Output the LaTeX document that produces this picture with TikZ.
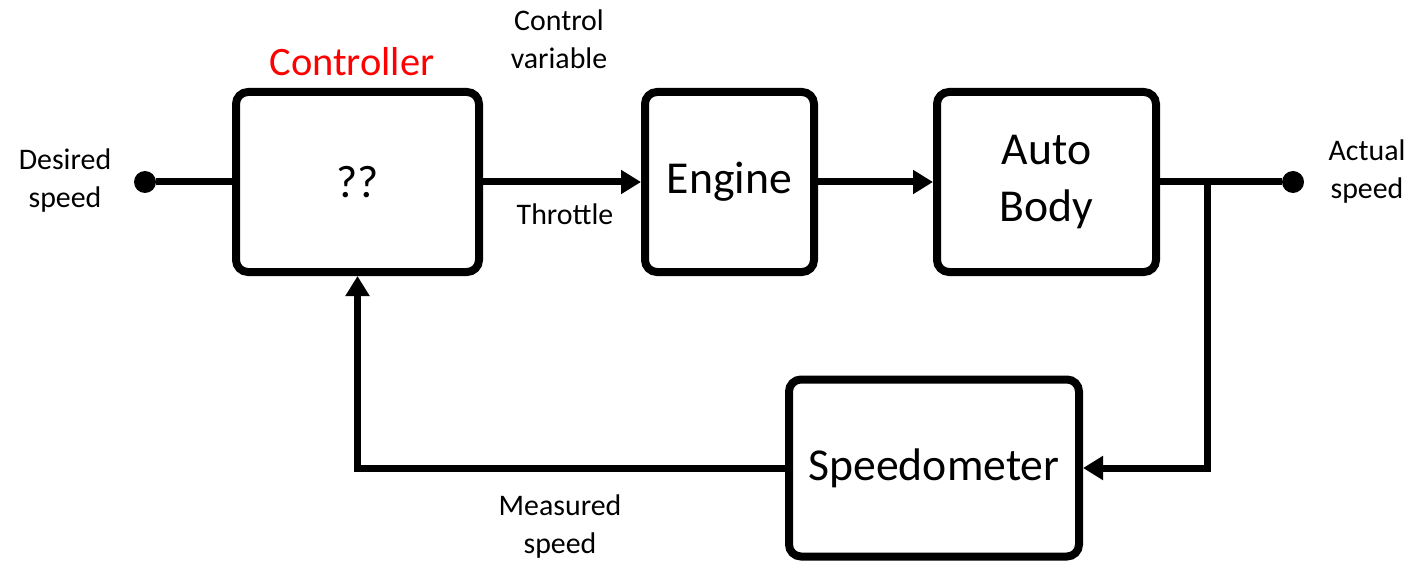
\documentclass[tikz,border=0pt]{standalone}
\usepackage{fontspec}
\setmainfont{Carlito}
\usepackage{tikz}
\usetikzlibrary{arrows.meta,positioning,calc}

\begin{document}
\begin{tikzpicture}[
    block/.style={rectangle, draw, line width=0.16cm, rounded corners=0.24cm, align=center, font=\fontsize{26}{32}\selectfont},
    port/.style={circle, fill, minimum size=0.44cm, inner sep=0pt},
    arrow/.style={-{Triangle[length=0.4cm,width=0.46cm]}, line width=0.14cm},
    wire/.style={line width=0.14cm},
    label/.style={align=center, font=\fontsize{17}{21.6}\selectfont}
]
\useasboundingbox (0,0) rectangle (28.24,-11.32);

% Blocks
\node[block, minimum width=4.86cm, minimum height=3.6cm] (ctrl) at (7.15,-3.64) {??};
\node[block, minimum width=3.38cm, minimum height=3.6cm] (engine) at (14.59,-3.64) {Engine};
\node[block, minimum width=4.38cm, minimum height=3.6cm] (body) at (20.93,-3.64) {Auto\\Body};
\node[block, minimum width=5.8cm, minimum height=3.54cm] (speedo) at (18.68,-9.36) {Speedometer};

% Input and output
\node[port] (in) at (2.90,-3.64) {};
\node[port] (out) at (25.86,-3.64) {};
\coordinate (split) at (24.14,-3.64);

% Connectors
\draw[wire] (in) -- (ctrl);
\draw[arrow] (ctrl) -- (engine);
\draw[arrow] (engine) -- (body);
\draw[wire] (body) -- (out);
\draw[arrow] (split) |- (speedo.east);
\draw[arrow] (speedo.west) -| (ctrl.south);

% Labels
\node[font=\fontsize{23}{28}\selectfont, text=red] (ctrltitle) at (7.04,-1.24) {Controller};
\node[label] (desired) at (1.30,-3.62) {Desired\\speed};
\node[label] (actual) at (27.34,-3.44) {Actual\\speed};
\node[label] (ctrlvar) at (11.18,-0.78) {Control\\variable};
\node[label] (throttle) at (11.30,-4.28) {Throttle};
\node[label] (measured) at (11.20,-10.54) {Measured\\speed};

\end{tikzpicture}
\end{document}
